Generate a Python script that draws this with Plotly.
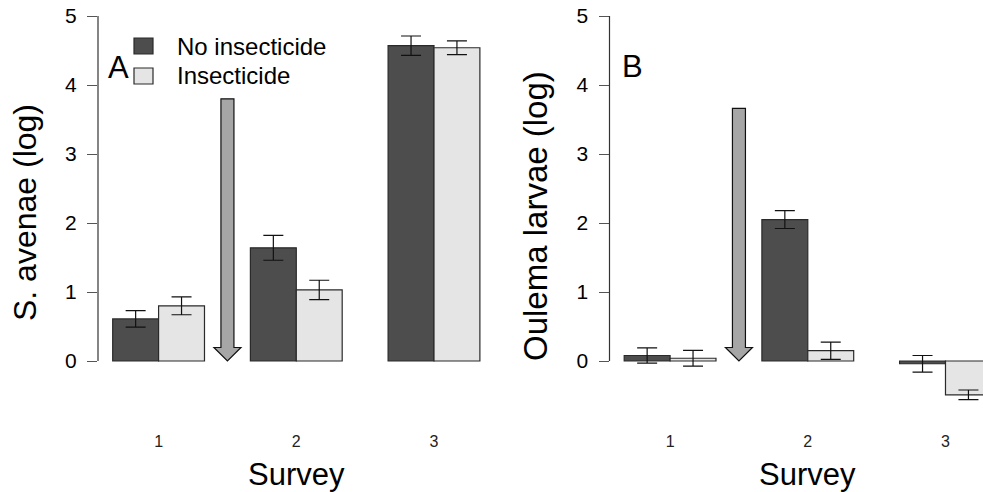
import plotly.graph_objects as go

# ---------------- data ----------------
surveys = ["1", "2", "3"]
treatments = ["No insecticide", "Insecticide"]

avenae_no_ins = [0.61, 1.64, 4.57]
avenae_no_ins_se = [0.12, 0.18, 0.14]
avenae_ins = [0.80, 1.03, 4.54]
avenae_ins_se = [0.13, 0.14, 0.10]

oulema_no_ins = [0.08, 2.05, -0.04]
oulema_no_ins_se = [0.11, 0.13, 0.12]
oulema_ins = [0.04, 0.15, -0.49]
oulema_ins_se = [0.115, 0.125, 0.07]

arrow_top = [3.8, 3.66]   # insecticide application arrow (between surveys 1 and 2)
y_ticks = [0, 1, 2, 3, 4, 5]

# ---------------- styling ----------------
FONT = "Arial, Liberation Sans, sans-serif"
DARK = "#4D4D4D"
LIGHT = "#E5E5E5"
ARROW = "#A6A6A6"
W, H = 983, 492
UNIT = 45.9      # px per bar unit
YPX = 69.0       # px per y unit

group_centers = [2 + 3 * i for i in range(len(surveys))]
dark_x = [c - 0.5 for c in group_centers]
light_x = [c + 0.5 for c in group_centers]

left_px = 98.0
right_px = 609.5
xr_left = [0.68, 0.68 + 396.6 / UNIT]
xr_right = [0.68, 0.68 + (W - right_px) / UNIT]
dom_left = [left_px / W, (left_px + 396.6) / W]
dom_right = [right_px / W, 1.0]

bottom_px = 420
y_range = [-(bottom_px - 361) / YPX, 5 + 16 / YPX]
y_dom = [(H - bottom_px) / H, 1.0]

fig = go.Figure()

def add_bars(xa, ya, vals, ses, xs, color, name):
    fig.add_trace(go.Bar(
        x=xs, y=vals, width=1.0, name=name, showlegend=False,
        marker=dict(color=color, line=dict(color="#2a2a2a", width=1.2)),
        error_y=dict(type="data", array=ses, visible=True, color="#111",
                     thickness=1.2, width=10),
        xaxis=xa, yaxis=ya,
    ))

add_bars("x", "y", avenae_no_ins, avenae_no_ins_se, dark_x, DARK, treatments[0])
add_bars("x", "y", avenae_ins, avenae_ins_se, light_x, LIGHT, treatments[1])
add_bars("x2", "y2", oulema_no_ins, oulema_no_ins_se, dark_x, DARK, treatments[0])
add_bars("x2", "y2", oulema_ins, oulema_ins_se, light_x, LIGHT, treatments[1])

shapes = []
# y-axis lines spanning only 0..5
for xd, yr in [("x domain", "y"), ("x2 domain", "y2")]:
    shapes.append(dict(type="line", xref=xd, yref=yr, x0=0, x1=0,
                       y0=min(y_ticks), y1=max(y_ticks),
                       line=dict(color="#333", width=1.2)))

# arrows
for (xr, yr), top in zip([("x", "y"), ("x2", "y2")], arrow_top):
    cx = (group_centers[0] + group_centers[1]) / 2
    sw = 6.5 / UNIT
    hw = 13.5 / UNIT
    hl = 13.5 / YPX
    path = (f"M {cx - sw} {top} L {cx + sw} {top} L {cx + sw} {hl} "
            f"L {cx + hw} {hl} L {cx} 0 L {cx - hw} {hl} L {cx - sw} {hl} Z")
    shapes.append(dict(type="path", xref=xr, yref=yr, path=path,
                       fillcolor=ARROW, line=dict(color="#111", width=1.2)))

# legend boxes (paper coords from pixels)
def px2x(p):
    return p / W

def px2y(p):
    return (H - p) / H

for (y0, y1), col in zip([(38, 54), (68, 84)], [DARK, LIGHT]):
    shapes.append(dict(type="rect", xref="paper", yref="paper",
                       x0=px2x(134), x1=px2x(153), y0=px2y(y1), y1=px2y(y0),
                       fillcolor=col, line=dict(color="#2a2a2a", width=1.2)))

annotations = []
for txt, yc in zip(treatments, [46, 76]):
    annotations.append(dict(text=txt, xref="paper", yref="paper",
                            x=px2x(175), y=px2y(yc), xanchor="left", yanchor="middle",
                            showarrow=False, font=dict(family=FONT, size=24, color="#000")))

annotations += [
    dict(text="A", xref="paper", yref="paper", x=px2x(118), y=px2y(67),
         xanchor="center", yanchor="middle", showarrow=False,
         font=dict(family=FONT, size=31, color="#000")),
    dict(text="B", xref="paper", yref="paper", x=px2x(632), y=px2y(66),
         xanchor="center", yanchor="middle", showarrow=False,
         font=dict(family=FONT, size=31, color="#000")),
    dict(text="S. avenae (log)", xref="paper", yref="paper", x=px2x(25), y=px2y(213),
         xanchor="center", yanchor="middle", textangle=-90, showarrow=False,
         font=dict(family=FONT, size=32, color="#000")),
    dict(text="Oulema larvae (log)", xref="paper", yref="paper", x=px2x(536), y=px2y(216),
         xanchor="center", yanchor="middle", textangle=-90, showarrow=False,
         font=dict(family=FONT, size=33, color="#000")),
    dict(text="Survey", xref="x", yref="paper", x=group_centers[1], y=px2y(474),
         xanchor="center", yanchor="middle", showarrow=False,
         font=dict(family=FONT, size=31, color="#000")),
    dict(text="Survey", xref="x2", yref="paper", x=group_centers[1], y=px2y(474),
         xanchor="center", yanchor="middle", showarrow=False,
         font=dict(family=FONT, size=31, color="#000")),
]

xaxis_common = dict(showgrid=False, zeroline=False, showline=False,
                    tickvals=group_centers, ticktext=surveys,
                    ticks="outside", ticklen=7, tickcolor="rgba(0,0,0,0)",
                    tickfont=dict(family=FONT, size=16, color="#222"),
                    fixedrange=True, automargin=False)
yaxis_common = dict(showgrid=False, zeroline=False, showline=False,
                    range=y_range, domain=y_dom, tickvals=y_ticks,
                    ticks="outside", ticklen=10, tickwidth=1.2, tickcolor="#555",
                    ticklabelstandoff=6,
                    tickfont=dict(family=FONT, size=21, color="#000"),
                    automargin=False)

fig.update_layout(
    width=W, height=H,
    margin=dict(l=0, r=0, t=0, b=0),
    paper_bgcolor="white", plot_bgcolor="white",
    barmode="overlay", showlegend=False,
    xaxis=dict(domain=dom_left, range=xr_left, anchor="y", **xaxis_common),
    xaxis2=dict(domain=dom_right, range=xr_right, anchor="y2", **xaxis_common),
    yaxis=dict(anchor="x", **yaxis_common),
    yaxis2=dict(anchor="x2", **yaxis_common),
    shapes=shapes, annotations=annotations,
)

fig.write_html("out.html", config={"displayModeBar": False},
               post_script="document.body.style.margin='0';document.body.style.overflow='hidden';")
